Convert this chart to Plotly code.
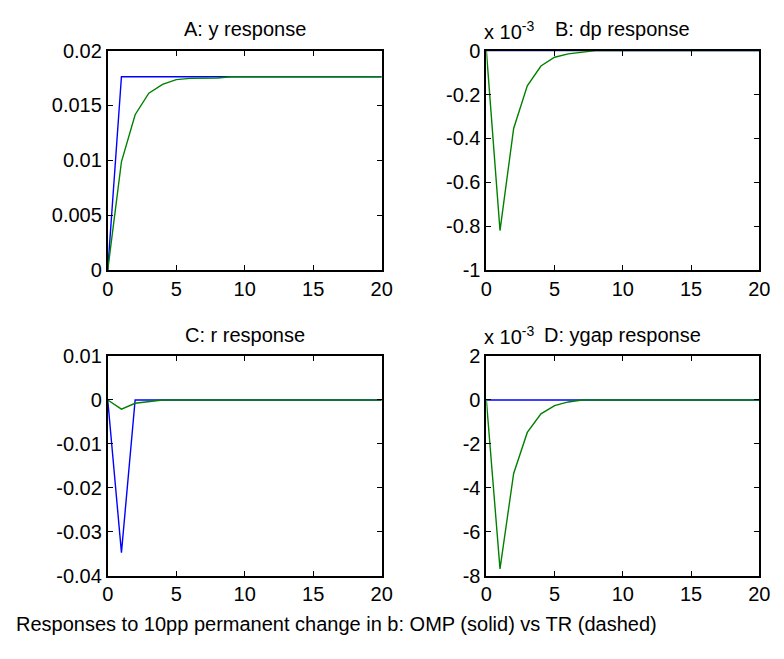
import plotly.graph_objects as go

t = list(range(21))

# Panel A: y response
y_omp = [0] + [0.01762] * 20
y_tr = [0, 0.00987, 0.01416, 0.01612, 0.01692, 0.01736, 0.01747, 0.0175, 0.0175, 0.01762] + [0.01762] * 11

# Panel B: dp response
dp_omp = [0.0] * 21
dp_tr = [0, -0.00082, -0.000355, -0.00016, -0.00007, -0.00003, -0.000015, -0.000006, 0] + [0.0] * 12

# Panel C: r response
r_omp = [0, -0.0348, 0, 0] + [0.0] * 17
r_tr = [0, -0.0021, -0.00075, -0.0004, 0] + [0.0] * 16

# Panel D: ygap response
gap_omp = [0.0] * 21
gap_tr = [0, -0.0077, -0.00335, -0.00148, -0.00063, -0.00026, -0.00009, 0] + [0.0] * 13

titles = ["A: y response", "B: dp response", "C: r response", "D: ygap response"]
footer = "Responses to 10pp permanent change in b: OMP (solid) vs TR (dashed)"

ya_ticks = [0, 0.005, 0.01, 0.015, 0.02]
ya_text = ["0", "0.005", "0.01", "0.015", "0.02"]
yb_ticks = [-0.001, -0.0008, -0.0006, -0.0004, -0.0002, 0]
yb_text = ["-1", "-0.8", "-0.6", "-0.4", "-0.2", "0"]
yc_ticks = [-0.04, -0.03, -0.02, -0.01, 0, 0.01]
yc_text = ["-0.04", "-0.03", "-0.02", "-0.01", "0", "0.01"]
yd_ticks = [-0.008, -0.006, -0.004, -0.002, 0, 0.002]
yd_text = ["-8", "-6", "-4", "-2", "0", "2"]
x_ticks = [0, 5, 10, 15, 20]

W, H = 784, 659
BLUE = "rgb(0,0,255)"
GREEN = "rgb(0,128,0)"
FONT = "Liberation Sans, Arial, sans-serif"
FS = 20

panels = [
    (y_omp, y_tr, (104, 384), (41, 268), [0, 0.02], ya_ticks, ya_text),
    (dp_omp, dp_tr, (491, 770), (41, 268), [-0.001, 0], yb_ticks, yb_text),
    (r_omp, r_tr, (104, 384), (357, 584), [-0.04, 0.01], yc_ticks, yc_text),
    (gap_omp, gap_tr, (491, 770), (357, 584), [-0.008, 0.002], yd_ticks, yd_text),
]

fig = go.Figure()
layout = {}
annotations = []
for i, (omp, tr, (x0, x1), (y0, y1), yr, yt, ytt) in enumerate(panels):
    n = "" if i == 0 else str(i + 1)
    fig.add_trace(go.Scatter(x=t, y=omp, mode="lines", line=dict(color=BLUE, width=1.4),
                             xaxis="x" + n, yaxis="y" + n, showlegend=False))
    fig.add_trace(go.Scatter(x=t, y=tr, mode="lines", line=dict(color=GREEN, width=1.4),
                             xaxis="x" + n, yaxis="y" + n, showlegend=False))
    common = dict(showline=True, linecolor="black", linewidth=1.8, mirror="ticks",
                  ticks="inside", ticklen=5, tickwidth=1, tickcolor="black",
                  showgrid=False, zeroline=False,
                  tickfont=dict(family=FONT, size=FS, color="black"))
    layout["xaxis" + n] = dict(domain=[x0 / W, x1 / W], range=[0, 20], tickvals=x_ticks,
                               anchor="y" + n, **common)
    layout["yaxis" + n] = dict(domain=[1 - y1 / H, 1 - y0 / H], range=yr, tickvals=yt,
                               ticktext=ytt, anchor="x" + n, **common)
    annotations.append(dict(text=titles[i], x=(x0 + x1) / 2 / W, y=1 - (y0 - 22) / H,
                            xref="paper", yref="paper", showarrow=False,
                            xanchor="center", yanchor="middle",
                            font=dict(family=FONT, size=FS, color="black")))
    if i in (1, 3):
        annotations.append(dict(text="x 10<sup>-3</sup>", x=(x0 - 4) / W, y=1 - (y0 - 6) / H,
                                xref="paper", yref="paper", showarrow=False,
                                xanchor="left", yanchor="bottom",
                                font=dict(family=FONT, size=FS, color="black")))

annotations.append(dict(text=footer, x=8 / W, y=1 - 634 / H, xref="paper", yref="paper",
                        showarrow=False, xanchor="left", yanchor="middle",
                        font=dict(family=FONT, size=FS, color="black")))

fig.update_layout(width=W, height=H, margin=dict(l=0, r=0, t=0, b=0),
                  paper_bgcolor="white", plot_bgcolor="white",
                  annotations=annotations, **layout)

fig.write_html("out.html")
